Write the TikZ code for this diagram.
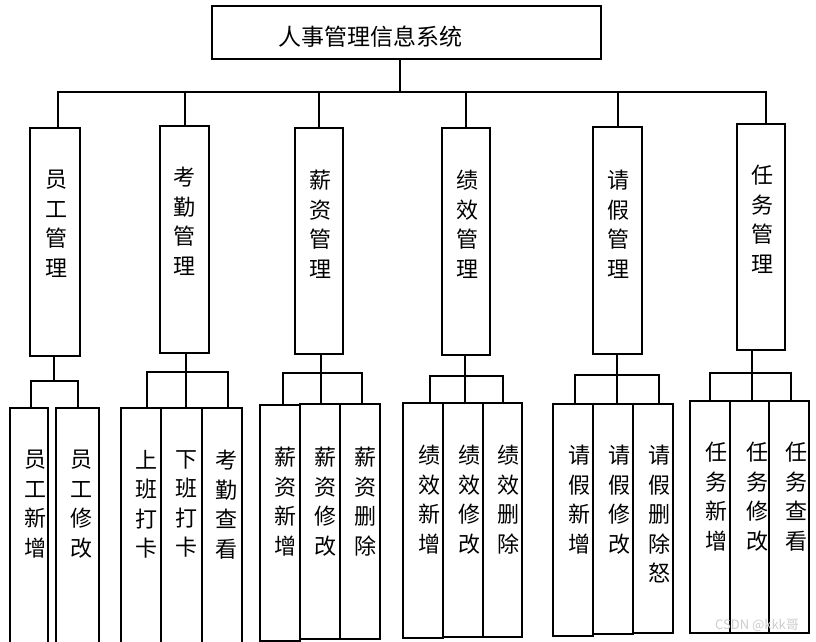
\documentclass[tikz,border=0pt]{standalone}
\usepackage{fontspec}
\newfontfamily\cjk{Noto Sans CJK SC}
\tikzset{
b/.style={
  draw=black,
  line width=2.4pt,
  inner sep=0pt,
  anchor=north west
  },
t/.style={
  font=\cjk\fontsize{22}{29.5}\selectfont,
  align=center,
  inner sep=0pt,
  anchor=north
  }
}

\begin{document}
\begin{tikzpicture}[x=1pt,y=-1pt,line width=2.4pt]
            \clip (0,0) rectangle (816,642);
            % top
            \node[b,minimum width=389pt,minimum height=53pt] (sys) at (211,5) {};
            \node[t,anchor=center,font=\cjk\fontsize{23}{28}\selectfont] (syst) at (370,37) {人事管理信息系统};
            % second level
            \node[b,minimum width=50pt,minimum height=228pt] (yg) at (29,127) {};
            \node[b,minimum width=49pt,minimum height=227pt] (kq) at (159,125) {};
            \node[b,minimum width=48pt,minimum height=226pt] (xz) at (294,127) {};
            \node[b,minimum width=48pt,minimum height=227pt] (jx) at (441,127) {};
            \node[b,minimum width=49pt,minimum height=227pt] (qj) at (592,126) {};
            \node[b,minimum width=48pt,minimum height=226pt] (rw) at (736,123) {};
            \node[t] (ygt) at (56,169) {员\\工\\管\\理};
            \node[t] (kqt) at (184.5,166) {考\\勤\\管\\理};
            \node[t] (xzt) at (320,169) {薪\\资\\管\\理};
            \node[t] (jxt) at (467,169) {绩\\效\\管\\理};
            \node[t] (qjt) at (618,169) {请\\假\\管\\理};
            \node[t] (rwt) at (762.5,164) {任\\务\\管\\理};
            % third level
            \node[b,minimum width=38pt,minimum height=250pt] (yg1) at (9,407) {};
            \node[b,minimum width=43pt,minimum height=250pt] (yg2) at (55,407) {};
            \node[b,minimum width=40pt,minimum height=250pt] (kq1) at (120,407) {};
            \node[b,minimum width=41pt,minimum height=250pt] (kq2) at (160,407) {};
            \node[b,minimum width=40pt,minimum height=250pt] (kq3) at (201,407) {};
            \node[b,minimum width=40pt,minimum height=236pt] (xz1) at (259,404) {};
            \node[b,minimum width=40pt,minimum height=235pt] (xz2) at (299,403) {};
            \node[b,minimum width=40pt,minimum height=235pt] (xz3) at (339,403) {};
            \node[b,minimum width=40pt,minimum height=235pt] (jx1) at (402,402) {};
            \node[b,minimum width=40pt,minimum height=234pt] (jx2) at (442,402) {};
            \node[b,minimum width=39pt,minimum height=234pt] (jx3) at (482,402) {};
            \node[b,minimum width=40pt,minimum height=232pt] (qj1) at (552,403) {};
            \node[b,minimum width=40pt,minimum height=230pt] (qj2) at (592,403) {};
            \node[b,minimum width=40pt,minimum height=229pt] (qj3) at (632,403) {};
            \node[b,minimum width=40pt,minimum height=232pt] (rw1) at (689,400) {};
            \node[b,minimum width=39pt,minimum height=232pt] (rw2) at (729,400) {};
            \node[b,minimum width=40pt,minimum height=232pt] (rw3) at (768,400) {};
            \node[t] (yg1t) at (35.5,449) {员\\工\\新\\增};
            \node[t] (yg2t) at (81.5,449) {员\\工\\修\\改};
            \node[t] (kq1t) at (146.5,449) {上\\班\\打\\卡};
            \node[t] (kq2t) at (186.5,449) {下\\班\\打\\卡};
            \node[t] (kq3t) at (226.5,449) {考\\勤\\查\\看};
            \node[t] (xz1t) at (285,446) {薪\\资\\新\\增};
            \node[t] (xz2t) at (325,446) {薪\\资\\修\\改};
            \node[t] (xz3t) at (365,446) {薪\\资\\删\\除};
            \node[t] (jx1t) at (429,444) {绩\\效\\新\\增};
            \node[t] (jx2t) at (469.5,444) {绩\\效\\修\\改};
            \node[t] (jx3t) at (508.5,444) {绩\\效\\删\\除};
            \node[t] (qj1t) at (579,444) {请\\假\\新\\增};
            \node[t] (qj2t) at (619.5,444) {请\\假\\修\\改};
            \node[t] (qj3t) at (659.5,444) {请\\假\\删\\除\\怒};
            \node[t] (rw1t) at (716.5,441) {任\\务\\新\\增};
            \node[t] (rw2t) at (757,441) {任\\务\\修\\改};
            \node[t] (rw3t) at (796.5,441) {任\\务\\查\\看};
            % connectors
            \coordinate (top) at (400,92);
            \draw (sys.south -| top) -- (top);
            \draw ([xshift=3pt]yg.north) |- (top) -| ([xshift=5pt]rw.north);
            \foreach \n in {kq,xz,jx,qj}
                \draw (\n.north) -- (\n.north |- top);
            \coordinate (ygj) at (54,381);
            \coordinate (kqj) at (186,372);
            \coordinate (xzj) at (321,373);
            \coordinate (jxj) at (465,376);
            \coordinate (qjj) at (617,375);
            \coordinate (rwj) at (752,373);
            \foreach \n in {yg,kq,xz,jx,qj,rw}
                \draw (\n.south -| \n j) -- (\n j);
            \foreach \n in {kq,xz,jx,qj,rw}
                \draw (\n j) -- (\n j |- \n 2.north);
            \draw ([xshift=2pt]yg1.north) |- (ygj) -| (yg2.north);
            \draw ([xshift=6pt]kq1.north) |- (kqj) -| ([xshift=6pt]kq3.north);
            \draw ([xshift=3pt]xz1.north) |- (xzj) -| ([xshift=2pt]xz3.north);
            \draw ([xshift=7pt]jx1.north) |- (jxj) -| (jx3.north);
            \draw ([xshift=2pt]qj1.north) |- (qjj) -| ([xshift=6pt]qj3.north);
            \draw (rw1.north) |- (rwj) -| ([xshift=2pt]rw3.north);
            % mark
            \node[inner sep=0pt,text=gray!40,font=\cjk\fontsize{13}{13}\selectfont] (wm) at (757,625) {CSDN @kkk哥};
\end{tikzpicture}
\end{document}
